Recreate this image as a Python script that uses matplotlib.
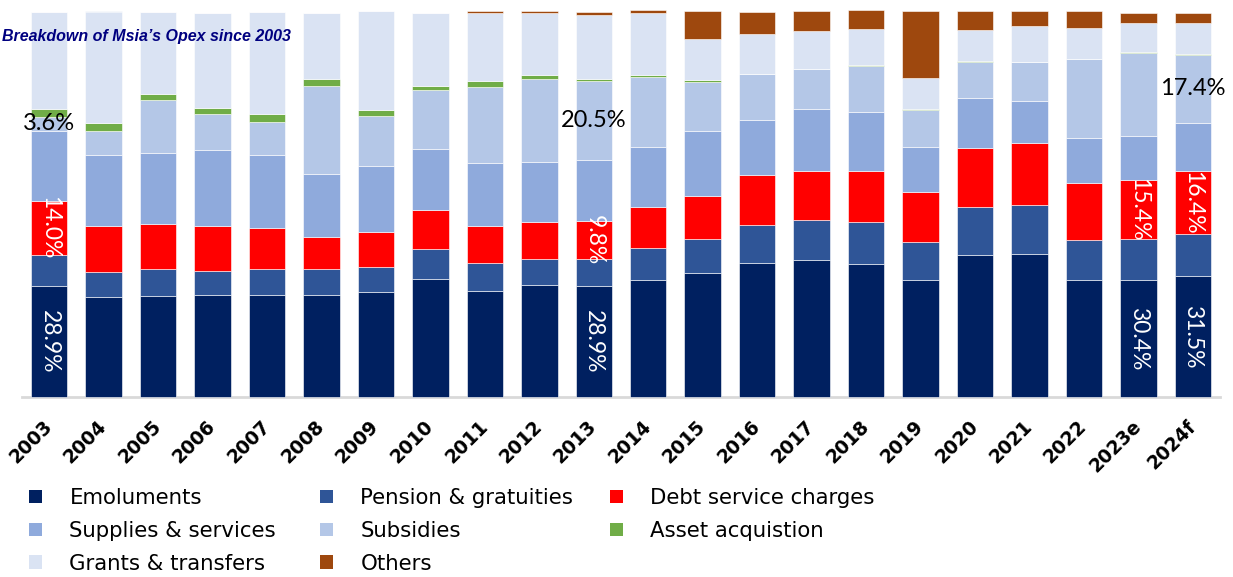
import matplotlib
matplotlib.use('Agg')

import matplotlib.pyplot as plt
import numpy as np
from matplotlib.patches import Patch

# Share of operating expenditure by component (%)
years = ['2003', '2004', '2005', '2006', '2007', '2008', '2009', '2010', '2011', '2012', '2013',
         '2014', '2015', '2016', '2017', '2018', '2019', '2020', '2021', '2022', '2023e', '2024f']
emoluments = [28.9, 25.9, 26.2, 26.5, 26.5, 26.5, 27.2, 30.7, 27.5, 29.1, 28.9,
              30.4, 32.2, 34.8, 35.5, 34.5, 30.4, 36.8, 37.1, 30.4, 30.4, 31.5]
pension = [7.9, 6.6, 6.9, 6.3, 6.7, 6.7, 6.4, 7.6, 7.3, 6.7, 6.9,
           8.3, 8.7, 9.9, 10.5, 10.8, 9.9, 12.5, 12.7, 10.2, 10.6, 10.8]
debt = [14.0, 11.9, 11.9, 11.5, 10.6, 8.3, 9.3, 10.2, 9.6, 9.6, 9.8,
        10.6, 11.2, 12.8, 12.7, 13.4, 12.8, 15.2, 16.2, 15.0, 15.4, 16.4]
supplies = [18.3, 18.4, 18.4, 19.7, 19.0, 16.3, 16.9, 15.9, 16.3, 15.6, 15.8,
            15.6, 16.9, 14.4, 15.9, 15.3, 11.8, 13.1, 10.9, 11.5, 11.2, 12.5]
subsidies = [3.6, 6.3, 13.6, 9.3, 8.6, 22.8, 13.0, 15.2, 19.7, 21.5, 20.5,
             18.1, 12.7, 11.8, 10.5, 11.9, 9.5, 9.2, 10.1, 20.6, 21.6, 17.4]
asset = [1.9, 2.0, 1.7, 1.6, 1.9, 1.9, 1.6, 1.0, 1.6, 1.0, 0.6,
         0.6, 0.6, 0.0, 0.0, 0.3, 0.3, 0.3, 0.0, 0.0, 0.3, 0.3]
grants = [25.3, 28.9, 21.2, 24.8, 26.6, 17.2, 25.7, 19.1, 17.6, 16.1, 16.7,
          16.1, 10.6, 10.5, 9.9, 9.2, 8.0, 8.0, 9.3, 8.0, 7.6, 8.2]
others = [0.0, 0.0, 0.0, 0.0, 0.0, 0.0, 0.0, 0.0, 0.6, 0.6, 0.6,
          0.6, 7.3, 5.7, 5.2, 4.9, 17.5, 5.0, 3.9, 4.5, 2.5, 2.5]

series_names = ['Emoluments', 'Pension & gratuities', 'Debt service charges',
                'Supplies & services', 'Subsidies', 'Asset acquistion',
                'Grants & transfers', 'Others']
series_values = [emoluments, pension, debt, supplies, subsidies, asset, grants, others]
colors = ['#002060', '#2F5597', '#FF0000', '#8FAADC', '#B4C7E7', '#70AD47', '#DAE3F3', '#9E480E']

# segments that carry a value label: (year, series index, rotated white text?)
labelled = [('2003', 4, False), ('2003', 2, True), ('2003', 0, True),
            ('2013', 4, False), ('2013', 2, True), ('2013', 0, True),
            ('2023e', 2, True), ('2023e', 0, True),
            ('2024f', 4, False), ('2024f', 2, True), ('2024f', 0, True)]

fig = plt.figure(figsize=(12.33, 5.77), dpi=100)
ax = fig.add_axes([22 / 1233, 1 - 397 / 577, 1198 / 1233, 385.5 / 577])

x = np.arange(len(years))
data = np.array(series_values)
bottoms = np.vstack([np.zeros(len(years)), np.cumsum(data, axis=0)[:-1]])

for vals, bot, c in zip(data, bottoms, colors):
    ax.bar(x, vals, bottom=bot, width=0.67, color=c, edgecolor='white',
           linewidth=0.4, clip_on=False, zorder=2)

for yr, si, rotated in labelled:
    i = years.index(yr)
    v = data[si, i]
    yc = bottoms[si, i] + v / 2
    if rotated:
        ax.text(x[i], yc, f'{v:.1f}%', rotation=270, color='white', fontsize=16.5,
                family='Lato', ha='center', va='center', rotation_mode='anchor', zorder=5)
    else:
        ax.text(x[i], yc, f'{v:.1f}%', color='black', fontsize=17,
                family='Lato', ha='center', va='center', zorder=5)

ax.set_xlim(-0.5, len(years) - 0.5)
ax.set_ylim(0, 100)
ax.set_yticks([])
ax.set_xticks(x)
ax.set_xticklabels(years, rotation=45, ha='right', va='center', rotation_mode='anchor',
                   fontsize=13.5, fontweight='bold')
ax.tick_params(axis='x', length=0, pad=19)
for s in ['top', 'right', 'left']:
    ax.spines[s].set_visible(False)
ax.spines['bottom'].set_color('#D9D9D9')
ax.spines['bottom'].set_linewidth(2)
ax.spines['bottom'].set_zorder(1)

# title sits over the bars
fig.text(2 / 1233, 1 - 36 / 577, 'Breakdown of Msia\u2019s Opex since 2003',
         fontsize=11.5, fontweight='bold', fontstyle='italic', color='#000080',
         family=['Liberation Sans Narrow', 'Liberation Sans'], ha='left', va='center', zorder=10)

# legend laid out in three columns like the original
handles = [Patch(facecolor=c, label=n) for c, n in zip(colors, series_names)]
columns = [[0, 3, 6], [1, 4, 7], [2, 5]]
col_x = [29 / 1233, 320 / 1233, 610 / 1233]
for cols, cx in zip(columns, col_x):
    leg = fig.legend(handles=[handles[k] for k in cols], loc='upper left',
                     bbox_to_anchor=(cx, 1 - 488 / 577), frameon=False, fontsize=15.3,
                     handlelength=0.6, handleheight=0.6, handletextpad=1.3,
                     labelspacing=0.6, borderpad=0, borderaxespad=0)

fig.savefig('out.png', dpi=100)
